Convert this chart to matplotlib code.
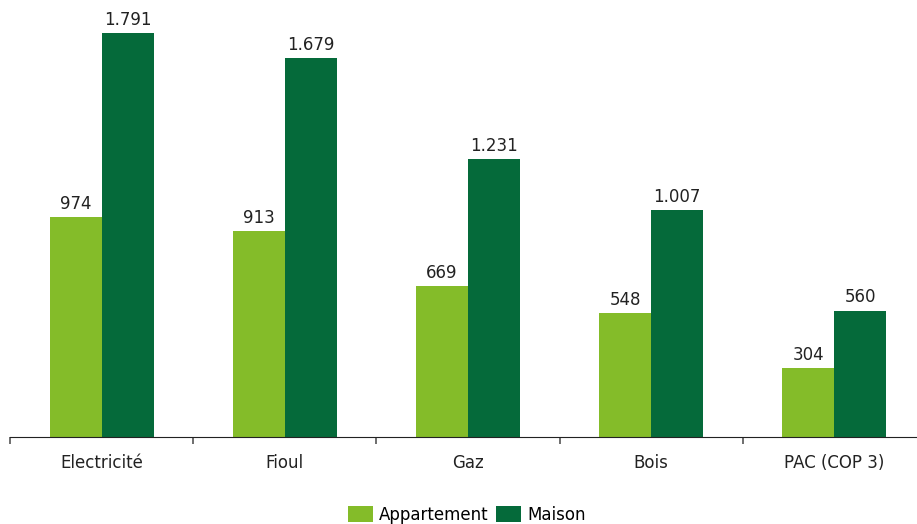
import matplotlib.pyplot as plt
import numpy as np

plt.rcParams['font.family'] = ['DejaVu Sans']

categories = ['Electricité', 'Fioul', 'Gaz', 'Bois', 'PAC (COP 3)']
appartement = [974, 913, 669, 548, 304]
maison = [1791, 1679, 1231, 1007, 560]
series_names = ['Appartement', 'Maison']
colors = ['#84bc29', '#056a3a']


def fmt(v):
    # séparateur de milliers à la française
    return f'{v:,}'.replace(',', '.')


fig = plt.figure(figsize=(9.17, 5.24), dpi=100)
# l'axe déborde un peu à droite de l'image, comme dans l'original
ax = fig.add_axes([10 / 917, 87 / 524, 916 / 917, 437 / 524])

x = np.arange(len(categories))
w = 0.284
b1 = ax.bar(x - w / 2, appartement, w, color=colors[0], label=series_names[0])
b2 = ax.bar(x + w / 2, maison, w, color=colors[1], label=series_names[1])

for bars in (b1, b2):
    for r in bars:
        ax.annotate(fmt(int(r.get_height())), (r.get_x() + r.get_width() / 2, r.get_height()),
                    xytext=(0, 3), textcoords='offset points', ha='center', va='bottom',
                    fontsize=12, color='#222222')

ax.set_xlim(-0.5, len(categories) - 0.5)
ax.set_ylim(0, 1937)
ax.set_yticks([])
for s in ['top', 'right', 'left']:
    ax.spines[s].set_visible(False)
ax.spines['bottom'].set_color('#222222')

ax.set_xticks(np.arange(-0.5, len(categories)), minor=False)
ax.set_xticklabels([])
ax.tick_params(axis='x', which='major', length=5, width=1.2, color='#555555', direction='out')
ax.set_xticks(x, minor=True)
ax.set_xticklabels(categories, minor=True, fontsize=12, color='#222222')
ax.tick_params(axis='x', which='minor', length=0, pad=12)

fig.legend(handles=[b1, b2], labels=series_names, loc='center', bbox_to_anchor=(0.509, 0.018),
           ncol=2, frameon=False, fontsize=12, handlelength=1.5, handleheight=1.1,
           columnspacing=0.5, handletextpad=0.35)

fig.savefig('out.png', dpi=100)
